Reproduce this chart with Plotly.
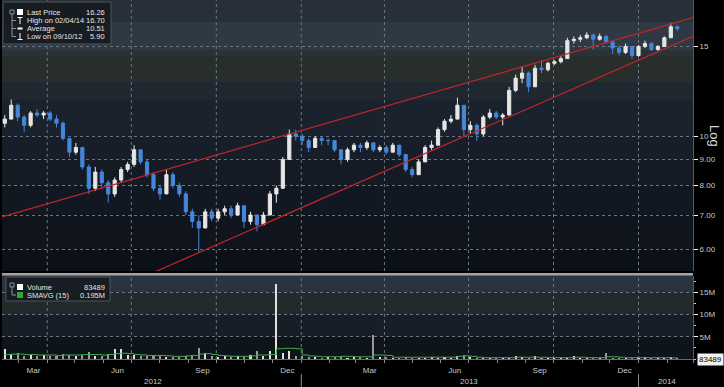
import plotly.graph_objects as go
import pandas as pd

# ---------------- data (weekly) ----------------
weeks = pd.date_range("2012-02-15", periods=105, freq="7D")

open_ = [10.6, 10.8, 11.5, 10.9, 10.5, 11.1, 11.0, 11.1, 10.8, 10.6,
         9.9, 9.3, 9.5, 8.7, 7.9, 8.5, 8.1, 7.7, 8.2, 8.6,
         8.8, 9.4, 8.9, 8.4, 7.9, 7.7, 8.4, 8.0, 7.7, 7.1,
         6.8, 6.6, 7.1, 6.9, 7.1, 7.2, 7.0, 7.3, 6.8, 7.0,
         6.7, 7.0, 7.7, 7.9, 9.0, 10.1, 10.0, 9.8, 9.5, 9.9,
         9.8, 9.8, 9.4, 9.0, 9.4, 9.6, 9.5, 9.7, 9.4, 9.5,
         9.3, 9.6, 9.2, 8.6, 8.4, 8.9, 9.5, 9.6, 10.3, 10.7,
         10.8, 11.5, 10.3, 10.5, 10.1, 10.9, 11.1, 10.9, 11.0, 12.3,
         13.0, 13.3, 12.5, 13.6, 13.5, 13.9, 14.0, 14.2, 15.4, 15.5,
         15.6, 15.8, 15.5, 15.7, 15.3, 14.9, 14.6, 15.0, 14.4, 15.0,
         15.2, 14.8, 15.0, 15.6, 16.4]
high = [11.0, 11.8, 11.6, 11.0, 11.2, 11.3, 11.2, 11.2, 11.0, 10.7,
        9.9, 9.7, 9.5, 8.8, 8.7, 8.6, 8.2, 8.3, 8.7, 8.9,
        9.6, 9.4, 9.0, 8.5, 8.0, 8.6, 8.5, 8.1, 7.8, 7.2,
        7.0, 7.2, 7.2, 7.2, 7.3, 7.3, 7.4, 7.3, 7.1, 7.0,
        7.1, 7.8, 8.0, 9.1, 10.3, 10.3, 10.1, 9.9, 10.0, 10.0,
        9.9, 9.8, 9.4, 9.5, 9.7, 9.7, 9.8, 9.7, 9.6, 9.6,
        9.7, 9.6, 9.2, 8.7, 9.0, 9.6, 9.8, 10.4, 10.8, 11.0,
        11.9, 11.5, 10.7, 10.6, 11.0, 11.3, 11.2, 11.1, 12.5, 13.2,
        13.7, 13.4, 13.8, 14.1, 14.0, 14.1, 14.4, 15.6, 15.7, 15.8,
        16.0, 15.9, 15.9, 15.8, 15.4, 15.1, 15.2, 15.0, 15.1, 15.4,
        15.3, 15.1, 15.7, 16.7, 16.5]
low = [10.4, 10.8, 10.7, 10.2, 10.4, 10.9, 10.8, 10.7, 10.4, 9.8,
       9.1, 9.2, 8.6, 7.7, 7.8, 7.9, 7.4, 7.6, 8.1, 8.5,
       8.7, 8.8, 8.3, 7.8, 7.5, 7.7, 7.9, 7.6, 7.0, 6.6,
       5.9, 6.6, 6.8, 6.8, 7.0, 6.9, 7.0, 6.6, 6.7, 6.5,
       6.7, 7.0, 7.4, 7.9, 9.0, 9.8, 9.6, 9.3, 9.5, 9.6,
       9.6, 9.3, 8.8, 8.9, 9.3, 9.3, 9.4, 9.3, 9.3, 9.2,
       9.3, 9.1, 8.5, 8.3, 8.4, 8.9, 9.4, 9.6, 10.2, 10.6,
       10.8, 10.0, 10.1, 9.8, 10.0, 10.8, 10.8, 10.5, 11.0, 12.2,
       12.7, 12.2, 12.5, 13.3, 13.4, 13.8, 13.9, 14.2, 15.2, 15.3,
       15.5, 14.8, 15.4, 15.2, 14.5, 14.4, 14.5, 14.2, 14.3, 14.9,
       14.7, 14.7, 15.0, 15.6, 16.1]
close = [10.8, 11.5, 10.9, 10.5, 11.1, 11.0, 11.1, 10.8, 10.6, 9.9,
         9.3, 9.5, 8.7, 7.9, 8.5, 8.1, 7.7, 8.2, 8.6, 8.8,
         9.4, 8.9, 8.4, 7.9, 7.7, 8.4, 8.0, 7.7, 7.1, 6.8,
         6.6, 7.1, 6.9, 7.1, 7.2, 7.0, 7.3, 6.8, 7.0, 6.7,
         7.0, 7.7, 7.9, 9.0, 10.1, 10.0, 9.8, 9.5, 9.9, 9.8,
         9.8, 9.4, 9.0, 9.4, 9.6, 9.5, 9.7, 9.4, 9.5, 9.3,
         9.6, 9.2, 8.6, 8.4, 8.9, 9.5, 9.6, 10.3, 10.7, 10.8,
         11.5, 10.3, 10.5, 10.1, 10.9, 11.1, 10.9, 11.0, 12.3, 13.0,
         13.3, 12.5, 13.6, 13.5, 13.9, 14.0, 14.2, 15.4, 15.5, 15.6,
         15.8, 15.5, 15.7, 15.3, 14.9, 14.6, 15.0, 14.4, 15.0, 15.2,
         14.8, 15.0, 15.6, 16.4, 16.26]

volume_m = [2.4, 1.2, 1.5, 0.9, 1.0, 0.8, 1.1, 0.7, 0.8, 1.3,
            1.0, 0.9, 1.1, 1.6, 0.9, 0.8, 1.2, 2.3, 2.4, 1.0,
            1.0, 0.7, 0.8, 1.0, 0.7, 0.6, 0.5, 0.6, 0.8, 1.0,
            2.6, 1.5, 0.9, 0.6, 0.7, 0.5, 0.7, 0.6, 1.0, 1.9,
            0.8, 1.9, 17.1, 1.5, 2.0, 0.8, 0.9, 0.6, 0.5, 0.4,
            0.6, 0.5, 0.9, 0.4, 0.5, 0.6, 0.4, 5.5, 0.6, 0.5,
            0.4, 0.3, 0.5, 0.4, 0.3, 0.4, 0.6, 0.3, 0.5, 0.4,
            0.8, 1.0, 0.5, 0.4, 0.3, 0.4, 0.3, 0.3, 0.4, 0.8,
            0.5, 0.3, 0.7, 0.3, 0.3, 0.4, 0.3, 0.4, 0.7, 0.3,
            0.4, 0.3, 0.3, 1.4, 0.4, 0.3, 0.3, 0.4, 0.3, 0.5,
            0.3, 0.3, 0.4, 0.6, 0.3]
smavg_m = [1.0, 1.1, 1.1, 1.0, 1.0, 0.9, 0.9, 0.9, 0.8, 0.9, 0.9, 0.9, 1.0,
           1.0, 1.0, 0.9, 1.0, 1.2, 1.3, 1.2, 1.0,
           0.9, 0.8, 0.8, 0.8, 0.7, 0.6, 0.6, 0.7, 0.8,
           1.1, 1.2, 1.0, 0.8, 0.7, 0.6, 0.6, 0.6, 0.7, 0.9, 0.9, 1.0,
           2.3, 2.4, 2.4, 2.3,
           0.9, 0.7, 0.6, 0.5, 0.5, 0.5, 0.6, 0.6, 0.5, 0.5, 0.5,
           0.9, 0.9, 0.8,
           0.4, 0.4, 0.4, 0.4, 0.4, 0.4, 0.4, 0.4, 0.4, 0.4,
           0.6, 0.7, 0.6,
           0.4, 0.3, 0.3, 0.3, 0.3, 0.3, 0.4, 0.4, 0.4, 0.4,
           0.4, 0.3, 0.3, 0.3, 0.3, 0.4, 0.4, 0.3, 0.3, 0.3,
           0.5, 0.5, 0.4, 0.3, 0.3, 0.3, 0.3, 0.3, 0.3, 0.3,
           0.25, 0.195]

upper_trend_dates = ["2012-02-12", "2014-03-01"]
upper_trend_vals = [6.94, 17.09]
lower_trend_dates = ["2012-02-12", "2014-03-01"]
lower_trend_vals = [4.00, 15.70]

price_ticks = [6, 7, 8, 9, 10, 15]
price_tick_text = ["6.00", "7.00", "8.00", "9.00", "10", "15"]
vol_ticks = [5e6, 10e6, 15e6]
vol_tick_text = ["5M", "10M", "15M"]
month_ticks = ["2012-03-17", "2012-06-16", "2012-09-16", "2012-12-17",
               "2013-03-16", "2013-06-16", "2013-09-16", "2013-12-17"]
month_text = ["Mar", "Jun", "Sep", "Dec", "Mar", "Jun", "Sep", "Dec"]
grid_dates = ["2012-04-01", "2012-07-01", "2012-10-01", "2013-01-01",
              "2013-04-01", "2013-07-01", "2013-10-01", "2014-01-01"]
year_labels = ["2012", "2013", "2014"]
year_pos = ["2012-07-24", "2013-07-01", "2014-02-01"]
year_breaks = ["2013-01-01", "2014-01-01"]

legend_rows = [("Last Price", "16.26"), ("High on 02/04/14", "16.70"),
               ("Average", "10.51"), ("Low on 09/10/12", "5.90")]
vol_legend_rows = [("Volume", "83489"), ("SMAVG (15)", "0.195M")]

# ---------------- geometry helpers ----------------
W, H = 724, 387
ML, MR, MT, MB = 2, 31, 0, 28
PW, PH = W - ML - MR, H - MT - MB


def px(x):
    return (x - ML) / PW


def py(y):
    return (H - MB - y) / PH


FONT = "Liberation Sans"
TXT = "#e4e4e4"
AX = "#c8c8c8"
GRID = "#6c7680"

up = [c >= o for o, c in zip(open_, close)]
vol_colors = ["#e0e0e0" if u else "#9a9a9a" for u in up]

fig = go.Figure()

fig.add_trace(go.Candlestick(
    x=weeks, open=open_, high=high, low=low, close=close,
    increasing=dict(line=dict(color="#e6e6e6", width=1), fillcolor="#e6e6e6"),
    decreasing=dict(line=dict(color="#4587da", width=1), fillcolor="#4587da"),
    whiskerwidth=0, xaxis="x", yaxis="y", showlegend=False, hoverinfo="skip"))

fig.add_trace(go.Scatter(x=upper_trend_dates, y=upper_trend_vals, mode="lines",
                         line=dict(color="#c2242c", width=1.2), xaxis="x", yaxis="y",
                         showlegend=False, hoverinfo="skip"))
fig.add_trace(go.Scatter(x=lower_trend_dates, y=lower_trend_vals, mode="lines",
                         line=dict(color="#c2242c", width=1.2), xaxis="x", yaxis="y",
                         showlegend=False, hoverinfo="skip"))

fig.add_trace(go.Bar(x=weeks, y=[v * 1e6 for v in volume_m], marker=dict(color=vol_colors, line=dict(width=0)),
                     width=2.2 * 86400000, xaxis="x2", yaxis="y2", showlegend=False, hoverinfo="skip"))
fig.add_trace(go.Scatter(x=weeks, y=[v * 1e6 for v in smavg_m], mode="lines",
                         line=dict(color="#3faa48", width=1, shape="hv"), xaxis="x2", yaxis="y2",
                         showlegend=False, hoverinfo="skip"))

shapes = []
# background bands, price panel
price_bands = [(0, 22, "#273039"), (22, 50, "#2e3944"), (50, 56, "#293139"), (56, 82, "#282e2c"),
               (82, 100, "#1f2731"), (100, 136, "#1a222d"), (136, 160, "#171e29"),
               (160, 185, "#141b25"), (185, 214, "#121822"), (214, 249, "#0f141d"), (249, 271, "#0c1018")]
for y0, y1, c in price_bands:
    shapes.append(dict(type="rect", xref="paper", yref="paper", x0=0, x1=1, y0=py(y1), y1=py(y0),
                       fillcolor=c, line=dict(width=0), layer="below"))
vol_bands = [(275, 292, "#283440"), (292, 314, "#222a2b"), (314, 337, "#171e28"), (337, 359, "#0f141a")]
for y0, y1, c in vol_bands:
    shapes.append(dict(type="rect", xref="paper", yref="paper", x0=0, x1=1, y0=py(y1), y1=py(y0),
                       fillcolor=c, line=dict(width=0), layer="below"))
# separator between panels
shapes.append(dict(type="rect", xref="paper", yref="paper", x0=0, x1=1, y0=py(275.5), y1=py(273),
                   fillcolor="#a4a4a4", line=dict(width=0)))
# vertical grid lines
for d in grid_dates:
    for yr in ("y domain", "y2 domain"):
        shapes.append(dict(type="line", xref="x", yref=yr, x0=d, x1=d, y0=0, y1=1,
                           line=dict(color=GRID, width=1, dash="dot"), layer="below"))
# year separators on the axis
for d in year_breaks:
    shapes.append(dict(type="line", xref="x", yref="paper", x0=d, x1=d, y0=py(387), y1=py(374),
                       line=dict(color="#8a8a8a", width=1)))

# legend boxes
shapes.append(dict(type="rect", xref="paper", yref="paper", x0=px(3), x1=px(111), y0=py(44), y1=py(2),
                   fillcolor="rgba(22,27,32,0.92)", line=dict(color="#4c545c", width=1)))
shapes.append(dict(type="rect", xref="paper", yref="paper", x0=px(6), x1=px(110), y0=py(301), y1=py(277),
                   fillcolor="rgba(22,27,32,0.92)", line=dict(color="#4c545c", width=1)))

row_y = [12, 20.5, 28.5, 36.5]
# tree lines (price legend)
tree = "#8c939a"
shapes.append(dict(type="rect", xref="paper", yref="paper", x0=px(10), x1=px(14), y0=py(14), y1=py(10),
                   line=dict(color=tree, width=1)))
shapes.append(dict(type="line", xref="paper", yref="paper", x0=px(12), x1=px(12), y0=py(36.5), y1=py(14),
                   line=dict(color=tree, width=1)))
for ry in row_y[1:]:
    shapes.append(dict(type="line", xref="paper", yref="paper", x0=px(12), x1=px(16), y0=py(ry), y1=py(ry),
                       line=dict(color=tree, width=1)))
# icons (price legend)
shapes.append(dict(type="rect", xref="paper", yref="paper", x0=px(17), x1=px(23), y0=py(15), y1=py(9),
                   fillcolor="#ffffff", line=dict(width=0)))
shapes.append(dict(type="line", xref="paper", yref="paper", x0=px(17.5), x1=px(22.5), y0=py(17.5), y1=py(17.5),
                   line=dict(color="#ffffff", width=1)))
shapes.append(dict(type="line", xref="paper", yref="paper", x0=px(20), x1=px(20), y0=py(24), y1=py(17.5),
                   line=dict(color="#ffffff", width=1)))
shapes.append(dict(type="rect", xref="paper", yref="paper", x0=px(17.5), x1=px(22.5), y0=py(29.5), y1=py(27.5),
                   fillcolor="#ffffff", line=dict(width=0)))
shapes.append(dict(type="line", xref="paper", yref="paper", x0=px(17.5), x1=px(22.5), y0=py(39.5), y1=py(39.5),
                   line=dict(color="#ffffff", width=1)))
shapes.append(dict(type="line", xref="paper", yref="paper", x0=px(20), x1=px(20), y0=py(39.5), y1=py(33),
                   line=dict(color="#ffffff", width=1)))
# volume legend tree and icons
vrow_y = [287, 295]
shapes.append(dict(type="rect", xref="paper", yref="paper", x0=px(10), x1=px(14), y0=py(287), y1=py(283),
                   line=dict(color=tree, width=1)))
shapes.append(dict(type="line", xref="paper", yref="paper", x0=px(12), x1=px(12), y0=py(295), y1=py(287),
                   line=dict(color=tree, width=1)))
shapes.append(dict(type="line", xref="paper", yref="paper", x0=px(12), x1=px(16), y0=py(295), y1=py(295),
                   line=dict(color=tree, width=1)))
shapes.append(dict(type="rect", xref="paper", yref="paper", x0=px(17), x1=px(23), y0=py(290), y1=py(284),
                   fillcolor="#ffffff", line=dict(width=0)))
shapes.append(dict(type="rect", xref="paper", yref="paper", x0=px(17), x1=px(23), y0=py(298), y1=py(292),
                   fillcolor="#2fa83a", line=dict(width=0)))

LEG = 7.5
annotations = []
for (lab, val), ry in zip(legend_rows, row_y):
    annotations.append(dict(xref="paper", yref="paper", x=px(25), y=py(ry), text=lab, showarrow=False,
                            xanchor="left", yanchor="middle", font=dict(family=FONT, size=LEG, color=TXT)))
    annotations.append(dict(xref="paper", yref="paper", x=px(107), y=py(ry), text=val, showarrow=False,
                            xanchor="right", yanchor="middle", font=dict(family=FONT, size=LEG, color=TXT)))
for (lab, val), ry in zip(vol_legend_rows, vrow_y):
    annotations.append(dict(xref="paper", yref="paper", x=px(25), y=py(ry), text=lab, showarrow=False,
                            xanchor="left", yanchor="middle", font=dict(family=FONT, size=LEG, color=TXT)))
    annotations.append(dict(xref="paper", yref="paper", x=px(107), y=py(ry), text=val, showarrow=False,
                            xanchor="right", yanchor="middle", font=dict(family=FONT, size=LEG, color=TXT)))

for lab, d in zip(year_labels, year_pos):
    annotations.append(dict(xref="x", yref="paper", x=d, y=py(381), text=lab, showarrow=False,
                            xanchor="center", yanchor="middle", font=dict(family=FONT, size=8, color=AX)))

annotations.append(dict(xref="paper", yref="y", x=1, y=close[-1], text="%.2f" % close[-1], showarrow=False,
                        xanchor="left", yanchor="middle", xshift=4, bgcolor="#f2f2f2", borderpad=1,
                        font=dict(family=FONT, size=8, color="#000000")))
annotations.append(dict(xref="paper", yref="y2", x=1, y=0, text="83489", showarrow=False,
                        xanchor="left", yanchor="middle", xshift=4, bgcolor="#f2f2f2", borderpad=1,
                        font=dict(family=FONT, size=8, color="#000000")))
annotations.append(dict(xref="paper", yref="paper", x=px(715), y=py(136), text="Log", showarrow=False,
                        textangle=90, xanchor="center", yanchor="middle",
                        font=dict(family=FONT, size=13, color="#d8d8d8")))

xrange = ["2012-02-12", "2014-03-01"]
fig.update_layout(
    width=W, height=H, margin=dict(l=ML, r=MR, t=MT, b=MB),
    paper_bgcolor="#000000", plot_bgcolor="rgba(0,0,0,0)",
    showlegend=False, shapes=shapes, annotations=annotations,
    xaxis=dict(type="date", range=xrange, domain=[0, 1], anchor="y", showticklabels=False,
               showgrid=False, zeroline=False, ticks="", rangeslider=dict(visible=False)),
    xaxis2=dict(type="date", range=xrange, domain=[0, 1], anchor="y2", matches="x",
                tickmode="array", tickvals=month_ticks, ticktext=month_text, ticks="",
                tickfont=dict(family=FONT, size=8, color=AX), showgrid=False, zeroline=False,
                showline=True, linecolor="#6a6a6a", linewidth=1, ticklabelstandoff=3,
                minor=dict(ticks="outside", ticklen=3, tickcolor="#8a8a8a", dtick="M1",
                           tick0="2012-01-01", showgrid=False),
                rangeslider=dict(visible=False)),
    yaxis=dict(type="log", domain=[py(271), 1], range=[0.7351, 1.2674], side="right",
               tickmode="array", tickvals=price_ticks, ticktext=price_tick_text,
               ticks="outside", ticklen=4, tickcolor="#ffffff",
               tickfont=dict(family=FONT, size=8, color=AX),
               showgrid=True, gridcolor=GRID, griddash="dot", gridwidth=1,
               showline=True, linecolor="#5a5a5a", zeroline=False, fixedrange=True),
    yaxis2=dict(domain=[0, py(275.5)], range=[0, 18.8e6], side="right",
                tickmode="array", tickvals=vol_ticks, ticktext=vol_tick_text,
                ticks="outside", ticklen=4, tickcolor="#ffffff",
                tickfont=dict(family=FONT, size=8, color=AX),
                showgrid=True, gridcolor=GRID, griddash="dot", gridwidth=1,
                showline=True, linecolor="#5a5a5a", zeroline=False,
                minor=dict(ticks="outside", ticklen=2, tickcolor="#cccccc", dtick=2.5e6, showgrid=False)),
    bargap=0,
)

fig.write_html("out.html")
